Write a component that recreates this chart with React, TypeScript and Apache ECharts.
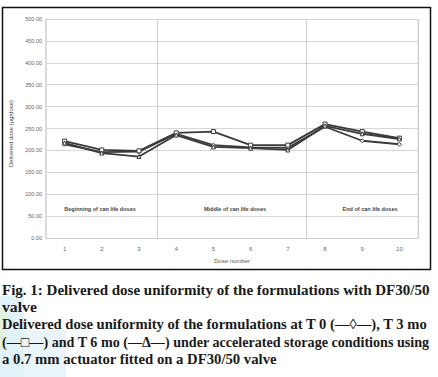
import React, { useEffect, useRef } from "react";
import * as echarts from "echarts";

const doses = ["1", "2", "3", "4", "5", "6", "7", "8", "9", "10"];
const t0 = [214, 196, 197, 238, 212, 207, 206, 254, 222, 214];
const t3 = [221, 201, 199, 240, 243, 212, 212, 260, 243, 228];
const t6 = [217, 194, 186, 235, 208, 205, 201, 256, 238, 226];
const yMin = 0;
const yMax = 500;
const yStep = 50;
const phaseLabels = ["Beginning of can life doses", "Middle of can life doses", "End of can life doses"];
const captionLines = [
  "Fig. 1: Delivered dose uniformity of the formulations with DF30/50",
  "valve",
  "Delivered dose uniformity of the formulations at T 0 (\u2014\u25ca\u2014), T 3 mo",
  "(\u2014\u25a1\u2014) and T 6 mo (\u2014\u0394\u2014) under accelerated storage conditions using",
  "a 0.7 mm actuator fitted on a DF30/50 valve",
];
const captionWidths = [428, 35, 426, 428, 275];

const CAP_FONT_SIZE = 14.5;
const CAP_FONT = `bold ${CAP_FONT_SIZE}px "Liberation Serif"`;

function measure(text: string, font: string): number {
  const c = document.createElement("canvas");
  const ctx = c.getContext("2d");
  if (!ctx) return 0;
  ctx.font = font;
  return ctx.measureText(text).width;
}

export default function App() {
  const ref = useRef<HTMLDivElement>(null);
  useEffect(() => {
    if (!ref.current) return;
    const chart = echarts.init(ref.current, null, { renderer: "svg" });
    const lineSeries = (name: string, data: number[], symbol: string) => ({
      name,
      type: "line",
      data,
      symbol,
      symbolSize: 4,
      showSymbol: true,
      itemStyle: { color: "#ffffff", borderColor: "#3a3a3a", borderWidth: 1 },
      lineStyle: { color: "#3a3a3a", width: 1.8 },
    });
    const phaseX = [100, 235, 370];
    chart.setOption({
      animation: false,
      backgroundColor: "#ffffff",
      grid: { left: 44, right: 20, top: 19, bottom: 139 },
      xAxis: {
        type: "category",
        data: doses,
        boundaryGap: true,
        name: "Dose number",
        nameLocation: "middle",
        nameGap: 20,
        nameTextStyle: { fontSize: 6, color: "#555", fontFamily: "Liberation Sans" },
        axisLine: { show: true, lineStyle: { color: "#cfcfcf", width: 1 } },
        axisTick: { show: false },
        axisLabel: { fontSize: 6, color: "#666", margin: 8, fontFamily: "Liberation Sans" },
        splitLine: {
          show: true,
          interval: (index: number) => index === 3 || index === 7,
          lineStyle: { color: "#cfcfcf", width: 1 },
        },
      },
      yAxis: {
        type: "value",
        min: yMin,
        max: yMax,
        interval: yStep,
        name: "Delivered dose (\u00b5g/dose)",
        nameLocation: "middle",
        nameGap: 32,
        nameTextStyle: { fontSize: 6, color: "#444", fontFamily: "Liberation Sans", padding: [0, 0, 0, -10] },
        axisLine: { show: true, lineStyle: { color: "#cfcfcf", width: 1.5 } },
        axisTick: { show: false },
        axisLabel: {
          fontSize: 5.5,
          color: "#666",
          margin: 4,
          fontFamily: "Liberation Sans",
          formatter: (v: number) => v.toFixed(2),
        },
        splitLine: { show: true, lineStyle: { color: "#d6d6d6", width: 1 } },
      },
      series: [
        lineSeries("T 0", t0, "diamond"),
        lineSeries("T 3 mo", t3, "rect"),
        lineSeries("T 6 mo", t6, "triangle"),
      ],
      graphic: [
        { type: "rect", z: -1, shape: { x: 0, y: 296, width: 24, height: 81 }, style: { fill: "#d9eff6", opacity: 0.8 } },
        { type: "rect", z: -1, shape: { x: 0, y: 310, width: 8, height: 40 }, style: { fill: "#e3f2dc", opacity: 0.9 } },
        { type: "rect", z: -1, shape: { x: 24, y: 330, width: 42, height: 47 }, style: { fill: "#e4f3f9", opacity: 0.8 } },
        {
          type: "rect",
          shape: { x: 2.5, y: 7.5, width: 428, height: 262 },
          style: { fill: "none", stroke: "#111", lineWidth: 1.5 },
        },
        { type: "line", shape: { x1: 418, y1: 19, x2: 418, y2: 238 }, style: { stroke: "#d6d6d6", lineWidth: 1 } },
        ...phaseLabels.map((t, i) => ({
          type: "text",
          x: phaseX[i],
          y: 209,
          style: {
            text: t,
            fontSize: 5.5,
            fontWeight: "bold",
            fill: "#444",
            fontFamily: "Liberation Sans",
            align: "center",
            verticalAlign: "middle",
          },
        })),
        ...captionLines.map((t, i) => {
          const w = measure(t, CAP_FONT);
          const sx = w > 0 ? captionWidths[i] / w : 1;
          return {
            type: "text",
            x: 2,
            y: 290 + i * 17.2,
            scaleX: sx,
            style: {
              text: t,
              fontSize: CAP_FONT_SIZE,
              fontWeight: "bold",
              fill: "#1a1a1a",
              fontFamily: "Liberation Serif",
              align: "left",
              verticalAlign: "middle",
            },
          };
        }),
      ],
    });
    return () => chart.dispose();
  }, []);
  return (
    <div
      ref={ref}
      style={{ position: "fixed", left: 0, top: 0, width: 438, height: 377, background: "#fff" }}
    />
  );
}
